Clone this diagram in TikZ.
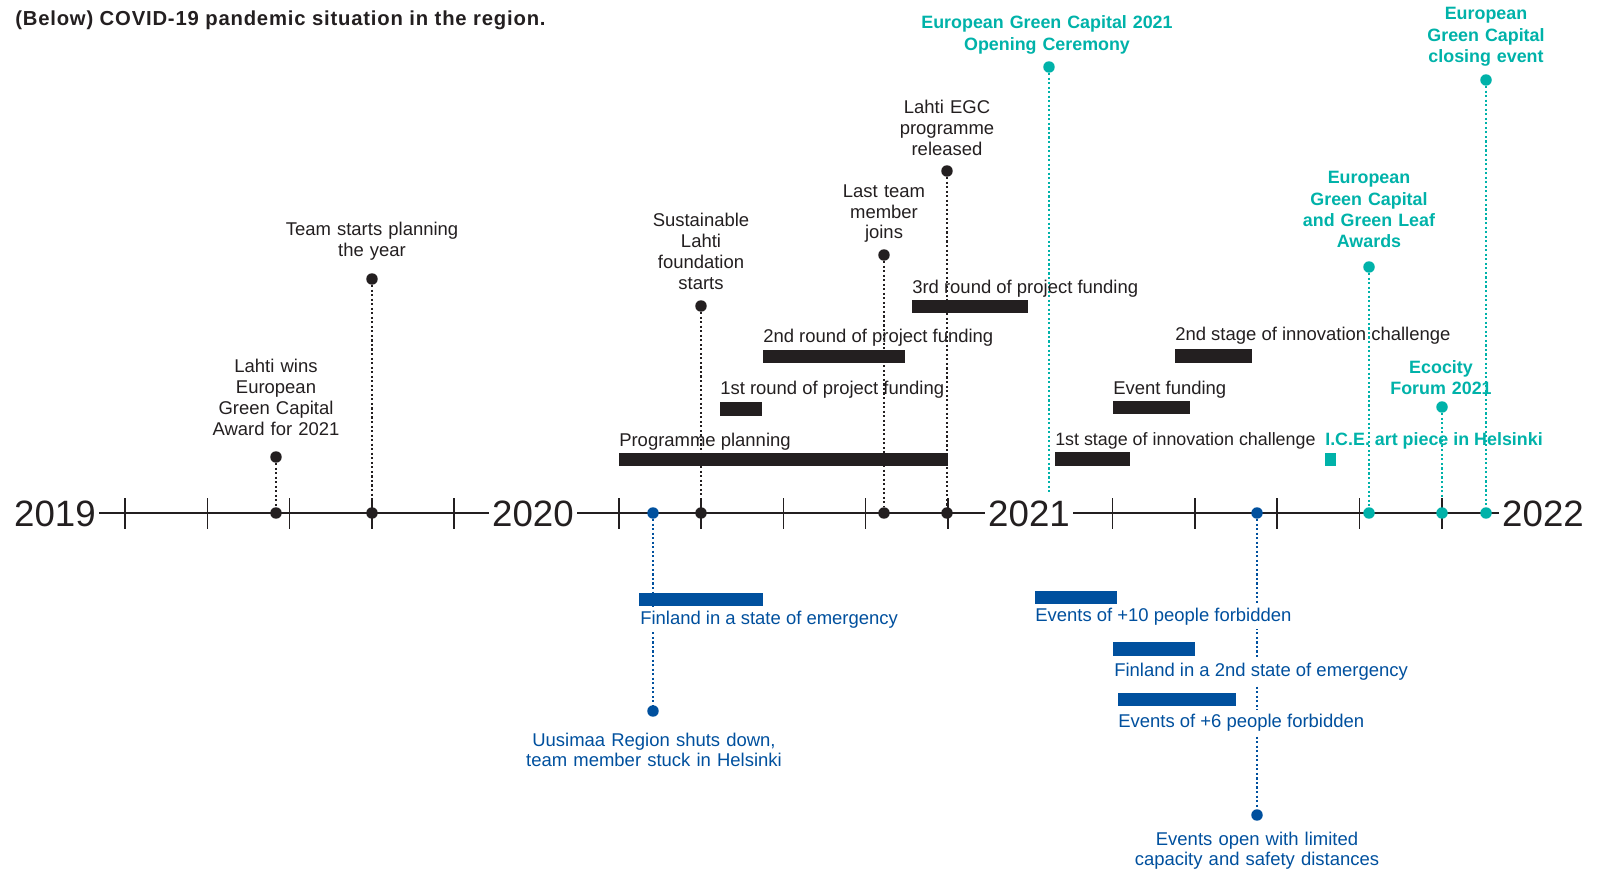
\documentclass[tikz,border=0pt]{standalone}
\usepackage{fontspec}
\setmainfont{Liberation Sans}
\usetikzlibrary{backgrounds}
\definecolor{ink}{HTML}{231F20}
\definecolor{egcteal}{HTML}{00B2A9}
\definecolor{covblue}{HTML}{00509E}
\begin{document}
\begin{tikzpicture}[x=0.75pt,y=-0.75pt,
  lbl/.style={font=\fontsize{13.85pt}{15.75pt}\selectfont, text=ink, inner sep=0pt, anchor=base west},
  mlbl/.style={font=\fontsize{13.85pt}{15.75pt}\selectfont, text=ink, inner sep=0pt, align=center, text width=7cm, anchor=base},
  glbl/.style={font=\fontsize{13.4pt}{15.75pt}\selectfont\bfseries, text=egcteal, inner sep=0pt, anchor=base west},
  gmlbl/.style={font=\fontsize{13.4pt}{15.9pt}\selectfont\bfseries, text=egcteal, inner sep=0pt, align=center, text width=7cm, anchor=base},
  blbl/.style={font=\fontsize{13.85pt}{15pt}\selectfont, text=covblue, inner xsep=0pt, inner ysep=3pt, fill=white, anchor=base west},
  bmlbl/.style={font=\fontsize{13.85pt}{15pt}\selectfont, text=covblue, inner sep=0pt, align=center, text width=7cm, anchor=base},
  year/.style={font=\fontsize{27.5pt}{30pt}\selectfont, text=ink, fill=white, inner xsep=2.25pt, inner ysep=0pt, anchor=base},
  axisln/.style={draw=ink, line width=1.1pt},
  dotln/.style={line width=1.7pt, dash pattern=on 1.6pt off 1.8pt},
  kdot/.style={circle, fill=ink, inner sep=0pt, minimum size=8.6pt},
  gdot/.style={kdot, fill=egcteal},
  bdot/.style={kdot, fill=covblue},
  kbar/.style={fill=ink},
  bbar/.style={fill=covblue},
]
\useasboundingbox (0,0) rectangle (1609,870);

% title
\node[anchor=base west, inner sep=0pt, text=ink,
  font=\fontsize{15.2pt}{17pt}\selectfont\bfseries\addfontfeature{LetterSpace=4}]
  (title) at (15,26) {(Below) COVID-19 pandemic situation in the region.};

% years
\node[year] (y2019) at (55,526.5) {2019};
\node[year] (y2020) at (533,526.5) {2020};
\node[year] (y2021) at (1029,526.5) {2021};
\node[year] (y2022) at (1543,526.5) {2022};

% ticks
\foreach \k in {0,1,2,3,4,6,7,8,9,10,12,13,14,15,16}
  \draw[axisln] ({125+82.3*\k},498) -- ++(0,31);

% upper labels (black)
\node[mlbl] (lWins) at (276,372) {Lahti wins\\European\\Green Capital\\Award for 2021};
\node[mlbl] (lTeam) at (372,235) {Team starts planning\\the year};
\node[mlbl] (lFound) at (701,226) {Sustainable\\Lahti\\foundation\\starts};
\node[mlbl] (lJoin) at (884,197) {Last team\\member\\joins};
\node[mlbl] (lRel) at (947,114) {Lahti EGC\\programme\\released};

% upper labels (teal)
\node[gmlbl] (lOpen) at (1047,29) {European Green Capital 2021\\Opening Ceremony};
\node[gmlbl] (lAward) at (1369,184) {European\\Green Capital\\and Green Leaf\\Awards};
\node[gmlbl] (lEco) at (1441,373) {Ecocity\\Forum 2021};
\node[gmlbl] (lClose) at (1486,20) {European\\Green Capital\\closing event};
\node[glbl] (lIce) at (1325,445) {I.C.E. art piece in Helsinki};

% bar labels
\node[lbl] (tPP) at (619,446) {Programme planning};
\node[lbl] (tR1) at (720,394) {1st round of project funding};
\node[lbl] (tR2) at (763,342) {2nd round of project funding};
\node[lbl] (tR3) at (912,293) {3rd round of project funding};
\node[lbl, font=\fontsize{13.4pt}{15.75pt}\selectfont] (tS1) at (1055,445) {1st stage of innovation challenge};
\node[lbl] (tEF) at (1113,394) {Event funding};
\node[lbl] (tS2) at (1175,340) {2nd stage of innovation challenge};

% black bars
\fill[kbar] (619,453) rectangle (948,466);
\fill[kbar] (720,402) rectangle (762,416);
\fill[kbar] (763,350) rectangle (905,363);
\fill[kbar] (912,300) rectangle (1028,313);
\fill[kbar] (1055,452) rectangle (1130,466);
\fill[kbar] (1113,401) rectangle (1190,414);
\fill[kbar] (1175,349) rectangle (1252,363);
\fill[egcteal] (1325,453) rectangle (1336,466);

% blue bars
\fill[bbar] (639,593) rectangle (763,606);
\fill[bbar] (1035,591) rectangle (1117,604);
\fill[bbar] (1113,642) rectangle (1195,656);
\fill[bbar] (1118,693) rectangle (1236,706);

% blue labels
\node[blbl] (tFin1) at (640,624) {Finland in a state of emergency};
\node[blbl] (tEv10) at (1035,621) {Events of +10 people forbidden};
\node[blbl] (tFin2) at (1114,676) {Finland in a 2nd state of emergency};
\node[blbl] (tEv6) at (1118,727) {Events of +6 people forbidden};
\node[bmlbl] (lUus) at (654,746) {Uusimaa Region shuts down,\\team member stuck in Helsinki};
\node[bmlbl] (lOpenEv) at (1257,845) {Events open with limited\\capacity and safety distances};

% dots
\node[kdot] (wins) at (276,457) {};
\node[kdot] (winsA) at (276,513) {};
\node[kdot] (team) at (372,279) {};
\node[kdot] (teamA) at (372,513) {};
\node[kdot] (found) at (701,306) {};
\node[kdot] (foundA) at (701,513) {};
\node[kdot] (join) at (884,255) {};
\node[kdot] (joinA) at (884,513) {};
\node[kdot] (rel) at (947,171) {};
\node[kdot] (relA) at (947,513) {};
\node[gdot] (open) at (1049,67) {};
\coordinate (openE) at (1049,493);
\node[gdot] (award) at (1369,267) {};
\node[gdot] (awardA) at (1369,513) {};
\node[gdot] (eco) at (1442,407) {};
\node[gdot] (ecoA) at (1442,513) {};
\node[gdot] (close) at (1486,80) {};
\node[gdot] (closeA) at (1486,513) {};
\node[bdot] (uusA) at (653,513) {};
\node[bdot] (uus) at (653,711) {};
\node[bdot] (evA) at (1257,513) {};
\node[bdot] (ev) at (1257,815) {};

\begin{scope}[on background layer]
  \draw[axisln] (y2019.east |- winsA) -- (y2022.west |- winsA);
  \draw[dotln, ink] (wins) -- (winsA);
  \draw[dotln, ink] (team) -- (teamA);
  \draw[dotln, ink] (found) -- (foundA);
  \draw[dotln, ink] (join) -- (joinA);
  \draw[dotln, ink] (rel) -- (relA);
  \draw[dotln, egcteal] (open) -- (openE);
  \draw[dotln, egcteal] (award) -- (awardA);
  \draw[dotln, egcteal] (eco) -- (ecoA);
  \draw[dotln, egcteal] (close) -- (closeA);
  \draw[dotln, covblue] (uusA) -- (uus);
  \draw[dotln, covblue] (evA) -- (ev);
\end{scope}
\end{tikzpicture}
\end{document}
